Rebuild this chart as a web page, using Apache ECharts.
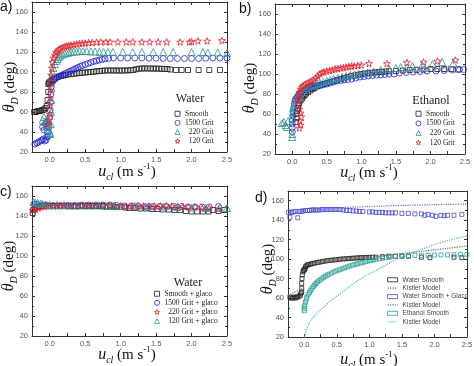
<!DOCTYPE html>
<html><head><meta charset="utf-8">
<script src="https://cdn.jsdelivr.net/npm/echarts/dist/echarts.min.js"></script>
<style>html,body{margin:0;padding:0;background:#fff}#c{width:474px;height:366px}</style>
</head><body><div id="c"></div>
<script>
// ---------- Panel a (Water) ----------
const aSmooth = [[-0.22,60],[-0.2,60],[-0.18,60.5],[-0.16,61],[-0.14,61],[-0.12,61.5],[-0.1,62],[-0.08,62.5],[-0.06,64],[-0.04,66],[-0.03,72],[-0.02,80],[-0.02,88],[-0.01,89],[0.0,90],[0.02,91],[0.04,92],[0.06,93],[0.08,94],[0.1,95],[0.13,95.5],[0.16,96],[0.19,96.5],[0.22,97],[0.26,97.5],[0.3,98],[0.34,98.3],[0.38,98.6],[0.42,99],[0.46,99.2],[0.5,99.5],[0.54,99.8],[0.58,100],[0.62,100.3],[0.66,100.6],[0.7,101],[0.74,101.2],[0.78,101.5],[0.82,101.5],[0.86,101.6],[0.9,101.5],[0.94,101.5],[0.98,101.4],[1.02,101.5],[1.06,101.5],[1.1,101.6],[1.14,101.8],[1.18,102],[1.22,102.8],[1.26,103.3],[1.3,103.5],[1.34,103.6],[1.38,103.5],[1.42,103.5],[1.46,103.4],[1.5,103.5],[1.54,103.3],[1.58,103.2],[1.62,103],[1.66,103],[1.7,102.5],[1.78,102],[1.86,102],[1.95,102],[2.1,102],[2.25,102],[2.4,102]];
const a1500 = [[-0.21,28],[-0.18,29],[-0.16,30],[-0.13,31],[-0.11,32],[-0.09,33],[-0.07,31],[-0.05,32],[-0.04,35],[-0.1,45],[-0.08,42],[-0.06,48],[-0.04,50],[-0.03,40],[-0.02,36],[-0.01,45],[0.0,55],[0.005,62],[0.01,70],[0.015,78],[0.02,85],[0.03,89],[0.04,91],[0.06,92.5],[0.08,93.5],[0.1,94.5],[0.13,95.5],[0.16,96.5],[0.19,97.5],[0.22,98.5],[0.25,99.5],[0.28,100.5],[0.31,101.5],[0.34,102.5],[0.37,103.5],[0.4,104.5],[0.43,105.5],[0.46,106.5],[0.5,107.5],[0.54,108.5],[0.58,109.5],[0.62,110.5],[0.66,111.2],[0.7,112],[0.74,112.6],[0.78,113.2],[0.83,113.6],[0.9,114],[1.0,114],[1.1,114],[1.2,114],[1.3,114],[1.4,113.8],[1.5,113.8],[1.6,113.5],[1.7,113.5],[1.8,113.5],[1.9,113.5],[2.0,113.5],[2.1,113.5],[2.2,113.8],[2.3,114],[2.4,114],[2.5,114]];
const a220 = [[-0.1,52],[-0.08,55],[-0.07,50],[-0.05,47],[-0.04,52],[-0.03,45],[-0.02,50],[-0.01,42],[0.0,39],[0.01,38],[0.015,48],[0.02,60],[0.02,72],[0.025,84],[0.03,95],[0.04,100],[0.05,104],[0.07,108],[0.09,111],[0.11,113],[0.13,115],[0.15,116.5],[0.18,117.5],[0.21,118.5],[0.24,119],[0.27,119.5],[0.3,120],[0.34,120.5],[0.38,120.5],[0.42,121],[0.47,121],[0.52,121],[0.58,120.5],[0.64,120.5],[0.7,120],[0.76,120],[0.82,120],[0.89,120],[1.03,120],[1.17,120],[1.3,120],[1.46,120],[1.6,120],[1.74,120],[2.0,120],[2.16,120],[2.23,119.5],[2.37,119.5],[2.5,119]];
const a120 = [[-0.02,48],[-0.01,52],[0.0,58],[0.0,66],[0.005,74],[0.01,82],[0.015,90],[0.02,97],[0.03,104],[0.04,110],[0.05,114],[0.07,117],[0.09,119.5],[0.11,121],[0.13,122.5],[0.15,123.5],[0.18,124.5],[0.21,125.5],[0.24,126],[0.27,126.5],[0.3,127],[0.34,127.5],[0.38,128],[0.42,128.5],[0.46,128.8],[0.5,129],[0.55,129.3],[0.6,129.5],[0.66,129.8],[0.72,130],[0.79,130],[0.85,130],[0.96,130],[1.08,130],[1.17,130],[1.3,130],[1.41,130],[1.53,130],[1.65,130],[1.84,130],[1.97,130],[2.0,130.5],[2.09,131],[2.22,131],[2.43,131.5]];

// ---------- Panel b (Ethanol) ----------
const bSmooth = [[0.05,52],[0.06,56],[0.06,60],[0.07,63],[0.08,66],[0.09,69],[0.1,71],[0.12,73.5],[0.14,75.5],[0.16,77.5],[0.18,79],[0.2,80.5],[0.23,82],[0.26,83.5],[0.29,85],[0.32,86],[0.36,87.5],[0.4,88.5],[0.45,90],[0.5,91],[0.55,92],[0.6,93],[0.65,94],[0.7,95],[0.75,96],[0.8,97],[0.85,97.8],[0.9,98.5],[0.95,99.2],[1.0,100],[1.05,100.5],[1.1,101],[1.15,101.3],[1.2,101.6],[1.25,102],[1.3,102.2],[1.35,102.5],[1.4,102.8],[1.5,103],[1.6,103.5],[1.7,104],[1.8,104.2],[1.9,104.5],[2.0,105],[2.1,105],[2.2,105],[2.3,105],[2.4,104.5]];
const b1500 = [[0.0,42],[0.0,46],[0.0,50],[0.0,54],[0.01,58],[0.01,62],[0.02,66],[0.03,70],[0.04,73],[0.05,75],[0.07,77],[0.09,79],[0.11,80.5],[0.13,82],[0.15,83],[0.18,84],[0.21,85],[0.24,86],[0.27,87],[0.3,87.5],[0.34,88],[0.38,88.5],[0.42,89],[0.46,89.5],[0.5,90],[0.55,91],[0.6,92],[0.65,93],[0.7,93.5],[0.75,94],[0.8,94.5],[0.86,95],[0.92,96],[0.98,97],[1.04,97.5],[1.1,98],[1.16,98.5],[1.22,99],[1.28,99.2],[1.34,99.5],[1.4,99.8],[1.47,100],[1.55,101],[1.65,101.5],[1.75,102],[1.85,102.5],[1.95,103],[2.08,103],[2.2,103.5],[2.32,104],[2.42,104.5],[2.48,104.5]];
const b220 = [[-0.15,51],[-0.12,52],[-0.1,49],[-0.08,47],[-0.06,53],[0.0,37],[0.0,40],[0.0,56],[0.01,62],[0.02,66],[0.04,70],[0.06,74],[0.08,77],[0.1,80],[0.13,82],[0.16,84],[0.2,86],[0.25,88],[0.3,89],[0.35,90],[0.4,91],[0.45,92],[0.5,93],[0.55,94],[0.6,95],[0.66,96],[0.72,97],[0.78,98],[0.84,99],[0.9,99.5],[0.96,100],[1.02,100.5],[1.09,101.5],[1.18,102.5],[1.28,104],[1.4,105],[1.5,106],[1.57,107],[1.66,106.5],[1.74,108],[1.88,109],[2.03,110],[2.17,112],[2.33,111]];
const b120 = [[0.1,46],[0.12,49],[0.11,53],[0.13,57],[0.12,61],[0.1,65],[0.08,70],[0.08,75],[0.09,79],[0.1,82],[0.12,85],[0.14,87],[0.16,88.5],[0.19,90],[0.22,91],[0.25,92],[0.28,93],[0.31,94],[0.34,96],[0.37,98],[0.4,100],[0.43,101.5],[0.46,102],[0.5,103],[0.54,103.5],[0.58,104],[0.62,105],[0.66,105.5],[0.7,106],[0.74,106.5],[0.78,107],[0.82,107.5],[0.86,108],[0.9,108],[0.95,108.5],[1.0,109],[1.11,110.5],[1.37,110.5],[1.66,111.5],[1.9,112],[2.1,113],[2.36,114]];

// ---------- Panel c (Water + glaco) ----------
const cSmooth = [[-0.24,143],[-0.23,146],[-0.21,148],[-0.18,149],[-0.15,149.5],[-0.1,150],[-0.05,150],[0.0,150],[0.05,150],[0.1,150],[0.15,150],[0.2,150],[0.25,150],[0.3,150],[0.35,150],[0.4,150],[0.45,150],[0.5,150],[0.55,150],[0.6,150],[0.65,150],[0.7,150],[0.75,150],[0.8,149.5],[0.85,149.5],[0.9,149.5],[0.95,149],[1.0,149],[1.06,148.5],[1.12,148],[1.2,148],[1.28,147.5],[1.36,147.5],[1.44,147],[1.52,147],[1.6,146.5],[1.68,146.5],[1.76,146],[1.84,146],[1.92,145],[2.0,144.5],[2.08,144.5],[2.16,144.5],[2.24,144.5],[2.3,146],[2.38,145],[2.46,146]];
const c1500 = [[-0.22,152],[-0.18,151.5],[-0.12,151],[-0.05,151],[0.05,150.5],[0.15,150.5],[0.25,150.5],[0.35,150.5],[0.45,151],[0.55,151],[0.65,151],[0.75,151],[0.85,151],[0.95,150.5],[1.05,150],[1.15,150],[1.25,150],[1.35,149.5],[1.45,149.5],[1.55,149.5],[1.65,149.5],[1.75,149.5],[1.85,149.5],[1.95,149],[2.05,149],[2.15,149],[2.25,149],[2.38,149.5]];
const c220 = [[-0.24,146],[-0.2,147],[-0.16,148],[-0.12,149],[-0.08,149.5],[-0.04,150],[0.0,150],[0.05,150],[0.1,150],[0.15,150],[0.2,150],[0.28,150],[0.36,150],[0.44,150.5],[0.52,150.5],[0.6,150.5],[0.68,150.5],[0.76,150.5],[0.84,150.5],[0.92,150.5],[1.0,150],[1.08,150],[1.16,150],[1.24,150],[1.32,150],[1.4,150],[1.48,150],[1.56,150],[1.64,150],[1.72,150],[1.8,149.5],[1.88,149.5],[1.96,149],[2.05,149],[2.15,148],[2.25,148],[2.38,147]];
const c120 = [[-0.23,154],[-0.2,153.5],[-0.17,153],[-0.13,152.5],[-0.1,152],[-0.06,151.5],[0.0,151],[0.1,151],[0.2,151],[0.3,150.5],[0.4,150.5],[0.5,150.5],[0.6,150.5],[0.7,150.5],[0.8,150],[0.9,150],[1.0,150],[1.2,150],[1.4,149.5],[1.6,149.5],[1.8,149],[2.0,148.5],[2.2,148],[2.4,148.5],[2.5,148]];

// ---------- Panel d (model comparison) ----------
const dWater = [[-0.22,61],[-0.2,60],[-0.18,60],[-0.16,61],[-0.14,60],[-0.12,61],[-0.1,61],[-0.08,62],[-0.06,63],[-0.05,65],[-0.04,66],[-0.04,70],[-0.04,75],[-0.035,80],[-0.03,84],[-0.02,87],[-0.01,88.5],[0.0,89],[0.01,90],[0.02,92],[0.03,93],[0.05,94],[0.07,94.5],[0.1,95],[0.13,95.5],[0.16,96],[0.2,96.5],[0.24,97],[0.28,97.5],[0.32,98],[0.36,98.5],[0.4,98.8],[0.44,99],[0.48,99.3],[0.52,99.6],[0.56,100],[0.6,100.2],[0.64,100.4],[0.68,100.6],[0.72,100.8],[0.76,101],[0.8,101.2],[0.84,101.4],[0.88,101.5],[0.92,101.6],[0.96,101.7],[1.0,101.8],[1.05,102],[1.1,102],[1.2,102.5],[1.3,103],[1.4,103],[1.5,103],[1.6,103],[1.8,102],[1.93,101.5],[2.3,102],[2.42,101.5]];
const dKistWater = [[-0.25,63],[-0.2,64.5],[-0.15,66],[-0.1,67.5],[-0.05,69],[-0.02,70.5],[-0.01,'-'],[0.0,93],[0.1,95],[0.2,96],[0.4,97.5],[0.6,99],[0.8,100.5],[1.0,102],[1.2,103.5],[1.4,105],[1.6,106.5],[1.8,108],[2.0,109.5],[2.2,111],[2.5,113.5]];
const dGlaco = [[-0.24,148],[-0.22,143],[-0.2,148],[-0.17,148.5],[-0.14,149],[-0.1,142.5],[-0.08,149],[-0.05,149],[-0.02,149.5],[0.02,150],[0.05,150],[0.08,150],[0.11,150.5],[0.14,150.5],[0.17,150.5],[0.2,150.5],[0.24,150.5],[0.28,151],[0.32,151],[0.36,151],[0.4,151],[0.44,151],[0.48,151],[0.52,151],[0.56,151],[0.6,150.5],[0.65,150],[0.7,150],[0.75,149.5],[0.8,149.5],[0.85,149],[0.9,149],[1.0,148.5],[1.05,148.5],[1.1,148],[1.15,148],[1.2,148],[1.25,147.5],[1.3,147.5],[1.35,147.5],[1.4,147.5],[1.5,147],[1.6,147],[1.7,146.5],[1.8,146.5],[1.85,145],[1.9,146],[1.97,145],[2.02,144],[2.1,145],[2.15,144.5],[2.2,145],[2.3,145],[2.42,146]];
const dKistGlaco = [[-0.25,146],[-0.1,148],[0.0,149.5],[0.2,151],[0.4,152],[0.6,153],[0.8,153.5],[1.0,154],[1.2,154.5],[1.4,155],[1.6,155.3],[1.8,155.6],[2.0,156],[2.2,156.3],[2.5,156.5]];
const dEthanol = [[0.0,47],[0.0,49],[0.0,51],[0.01,53],[0.02,56],[0.03,59],[0.04,61],[0.06,64],[0.08,66],[0.1,68],[0.12,70],[0.14,72],[0.16,73.5],[0.18,75],[0.2,76.5],[0.23,78],[0.26,79.5],[0.29,81],[0.32,82.3],[0.35,83.5],[0.38,84.5],[0.42,85.8],[0.46,87],[0.5,88],[0.54,89],[0.58,90],[0.62,91],[0.66,92],[0.7,93],[0.74,93.8],[0.78,94.6],[0.82,95.3],[0.86,96],[0.9,96.7],[0.94,97.3],[0.98,98],[1.02,98.6],[1.06,99.2],[1.1,99.8],[1.15,100.4],[1.2,101],[1.26,101.6],[1.32,102.2],[1.4,102.8],[1.5,103.3],[1.6,103.6],[1.7,103.8],[1.8,104],[1.9,104],[2.0,104.2],[2.1,104.3],[2.2,104.4],[2.3,104.5],[2.4,104.7],[2.5,105]];
const dKistEth = [[0.0,20],[0.03,27],[0.06,32],[0.1,37],[0.15,41],[0.2,45],[0.3,51],[0.4,57],[0.5,62],[0.6,67],[0.7,72],[0.8,77],[0.9,81],[1.0,85],[1.2,92],[1.4,99],[1.6,105],[1.8,110],[2.0,115],[2.2,119],[2.5,124]];

// legend labels
const legA = ['Smooth', '1500 Grit', '  220 Grit', '  120 Grit'];
const legC = ['Smooth + glaco', '1500 Grit + glaco', '  220 Grit + glaco', '  120 Grit + glaco'];
const legD = ['Water Smooth', 'Kistler Model', 'Water Smooth + Glaco', 'Kistler Model ', 'Ethanol Smooth', 'Kistler Model  '];

// axis ranges / ticks
const X_MIN = -0.25, X_MAX = 2.5, X_STEP = 0.25;
const Y_MIN = 20, Y_MAX = 170, Y_STEP = 20;

const BLACK = '#1e1e1e', BLUE = '#2424d6', TEAL = '#2e9490', RED = '#e3202b';
const D_BLACK = '#222', D_BLUE = '#4a4ad0', D_TEAL = '#26a09a';
const K_WATER = '#7d6b4f', K_GLACO = '#6a6ae0', K_ETH = '#4fb3b0';
const STAR = 'path://M0,-10L2.35,-3.24L9.51,-3.09L3.8,1.24L5.88,8.09L0,4L-5.88,8.09L-3.8,1.24L-9.51,-3.09L-2.35,-3.24Z';

const grids = [
  {left:32, top:2, width:195, height:150},
  {left:275, top:4, width:190, height:150},
  {left:32, top:186, width:195, height:150},
  {left:288, top:191, width:179, height:146}
].map(g => Object.assign({containLabel:false, outerBoundsMode:'none'}, g));

const AX = '#333';
const xFmt = v => (v > -1e-9 && Math.abs(v*2 - Math.round(v*2)) < 1e-6) ? v.toFixed(1) : '';
const yFmt = v => (Math.abs(v % 20) < 1e-6 && v <= 160) ? String(v) : '';
const xAxes = [], yAxes = [];
for (let g = 0; g < 4; g++) {
  ['bottom','top'].forEach((pos, k) => xAxes.push({
    type:'value', gridIndex:g, position:pos, min:X_MIN, max:X_MAX, interval:X_STEP,
    axisLine:{show:true, onZero:false, lineStyle:{color:AX, width:1}},
    axisTick:{show:true, inside:true, length:3, lineStyle:{color:AX}},
    axisLabel:{show:k===0, fontSize:7.5, color:'#555', margin:4, fontFamily:'Liberation Sans', formatter:xFmt},
    splitLine:{show:false}
  }));
  ['left','right'].forEach((pos, k) => yAxes.push({
    type:'value', gridIndex:g, position:pos, min:Y_MIN, max:Y_MAX, interval:Y_STEP,
    axisLine:{show:true, onZero:false, lineStyle:{color:AX, width:1}},
    axisTick:{show:true, inside:true, length:3, lineStyle:{color:AX}},
    minorTick:{show:true, splitNumber:2, length:2, lineStyle:{color:AX}},
    axisLabel:{show:k===0, fontSize:7.5, color:'#555', margin:4, fontFamily:'Liberation Sans', formatter:yFmt},
    splitLine:{show:false}
  }));
}

function sc(name, data, g, sym, color, size, bw) {
  return {type:'scatter', name, data, xAxisIndex:g*2, yAxisIndex:g*2, symbol:sym, symbolSize:size,
    symbolKeepAspect:true, itemStyle:{color:'rgba(0,0,0,0)', borderColor:color, borderWidth:bw||1},
    emphasis:{disabled:true}, silent:true};
}
function ln(name, data, g, color) {
  return {type:'line', name, data, xAxisIndex:g*2, yAxisIndex:g*2, symbol:'none', showSymbol:false, smooth:0.3,
    lineStyle:{color, width:1.2, type:'dotted'}, itemStyle:{color}, emphasis:{disabled:true}, silent:true, z:3};
}

const series = [
  sc(legA[0], aSmooth, 0, 'rect', BLACK, 5),
  sc(legA[1], a1500, 0, 'circle', BLUE, 6),
  sc(legA[2], a220, 0, 'triangle', TEAL, 7),
  sc(legA[3], a120, 0, STAR, RED, 7),
  sc(legA[0], bSmooth, 1, 'rect', BLACK, 5),
  sc(legA[1], b1500, 1, 'circle', BLUE, 6),
  sc(legA[2], b220, 1, 'triangle', TEAL, 7),
  sc(legA[3], b120, 1, STAR, RED, 7),
  sc(legC[0], cSmooth, 2, 'rect', BLACK, 5),
  sc(legC[1], c1500, 2, 'circle', BLUE, 6),
  sc(legC[2], c220, 2, STAR, RED, 7),
  sc(legC[3], c120, 2, 'triangle', TEAL, 7),
  sc(legD[0], dWater, 3, 'rect', D_BLACK, 4),
  sc(legD[2], dGlaco, 3, 'rect', D_BLUE, 4),
  sc(legD[4], dEthanol, 3, 'rect', D_TEAL, 4),
  ln(legD[1], dKistWater, 3, K_WATER),
  ln(legD[3], dKistGlaco, 3, K_GLACO),
  ln(legD[5], dKistEth, 3, K_ETH)
];

// legend items with explicit hollow icons
const hollow = (name, color) => ({name, itemStyle:{color:'rgba(0,0,0,0)', borderColor:color, borderWidth:1}});
const lineItem = (name, color) => ({name, itemStyle:{color:'rgba(0,0,0,0)', borderColor:'rgba(0,0,0,0)', borderWidth:0, opacity:0},
  lineStyle:{color, width:1.2, type:'dotted'}});

function leg(left, top, data, fs, gap, iw, ih, family, color) {
  return {orient:'vertical', left, top, padding:0, itemWidth:iw, itemHeight:ih, itemGap:gap, data,
    selectedMode:false, symbolKeepAspect:true,
    textStyle:{fontFamily:family, fontSize:fs, color:color, padding:0, lineHeight:fs+1}};
}
const legends = [
  leg(174.5, 109.5, [hollow(legA[0],BLACK), hollow(legA[1],BLUE), hollow(legA[2],TEAL), hollow(legA[3],RED)], 7.5, 0.6, 5, 5, 'Liberation Serif', '#222'),
  leg(415.5, 109.5, [hollow(legA[0],BLACK), hollow(legA[1],BLUE), hollow(legA[2],TEAL), hollow(legA[3],RED)], 7.5, 1.1, 5, 5, 'Liberation Serif', '#222'),
  leg(154, 289.5, [hollow(legC[0],BLACK), hollow(legC[1],BLUE), hollow(legC[2],RED), hollow(legC[3],TEAL)], 7.5, 0.6, 5, 5, 'Liberation Serif', '#222'),
  leg(387, 276, [hollow(legD[0],D_BLACK), lineItem(legD[1],K_WATER), hollow(legD[2],D_BLUE), lineItem(legD[3],K_GLACO), hollow(legD[4],D_TEAL), lineItem(legD[5],K_ETH)], 6.5, 0.9, 10, 4, 'Liberation Sans', '#444')
];

const SERIF = 'Liberation Serif';
const yRich = {
  t:{fontFamily:SERIF, fontStyle:'italic', fontSize:16, lineHeight:20, verticalAlign:'middle', fill:'#111'},
  s:{fontFamily:SERIF, fontStyle:'italic', fontSize:10, lineHeight:20, verticalAlign:'bottom', fill:'#111'},
  n:{fontFamily:SERIF, fontSize:15, lineHeight:20, verticalAlign:'middle', fill:'#111'}
};
const xRich = {
  t:{fontFamily:SERIF, fontStyle:'italic', fontSize:16, lineHeight:20, verticalAlign:'middle', fill:'#111'},
  s:{fontFamily:SERIF, fontStyle:'italic', fontSize:10, lineHeight:20, verticalAlign:'bottom', fill:'#111'},
  n:{fontFamily:SERIF, fontSize:15, lineHeight:20, verticalAlign:'middle', fill:'#111'},
  p:{fontFamily:SERIF, fontSize:9, lineHeight:20, verticalAlign:'top', fill:'#111'}
};
function yTitle(x, y) {
  return {type:'text', x, y, rotation:Math.PI/2, silent:true,
    style:{text:'{t|θ}{s|D}{n| (deg)}', rich:yRich, align:'center', verticalAlign:'middle'}};
}
function xTitle(x, y) {
  return {type:'text', x, y, silent:true,
    style:{text:'{t|u}{s|cl}{n| (m s}{p|-1}{n|)}', rich:xRich, align:'center', verticalAlign:'middle'}};
}
function label(text, x, y) {
  return {type:'text', x, y, silent:true, style:{text, font:'14px "Liberation Sans"', fill:'#111', align:'left', verticalAlign:'top'}};
}
function head(text, x, y, fs) {
  return {type:'text', x, y, silent:true, style:{text, font:fs+'px "Liberation Serif"', fill:'#222', align:'center', verticalAlign:'middle'}};
}
const graphic = [
  label('a)', 0, 0), label('b)', 239, 2), label('c)', 0, 185), label('d)', 255, 191),
  yTitle(10, 87), xTitle(127, 172),
  yTitle(250, 88), xTitle(369, 173),
  yTitle(9, 266), xTitle(127, 355),
  yTitle(268, 269), xTitle(369, 360),
  head('Water', 190, 99, 12), head('Ethanol', 431, 100.5, 12), head('Water', 188, 282.5, 12)
];

const chart = echarts.init(document.getElementById('c'), null, {renderer:'canvas'});
chart.setOption({animation:false, backgroundColor:'#fff', grid:grids, xAxis:xAxes, yAxis:yAxes,
  legend:legends, series, graphic, tooltip:{show:false}});
</script></body></html>
